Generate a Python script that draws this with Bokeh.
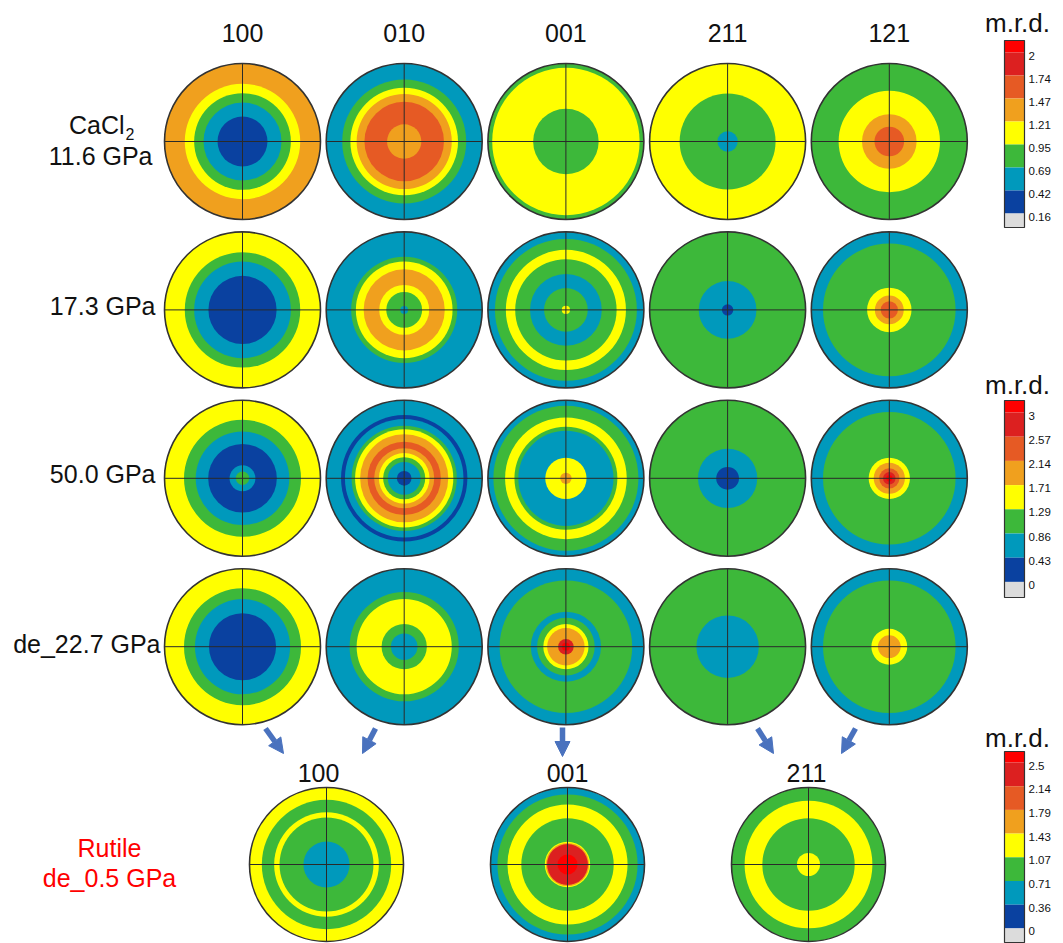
from bokeh.plotting import figure
from bokeh.models import Range1d, ColumnDataSource, Arrow, NormalHead
from bokeh.core.properties import value
from bokeh.embed import file_html
from bokeh.resources import INLINE

# ---- data -------------------------------------------------------------
# contour level colours, index 0 (lowest) .. 8 (highest)
level_colors = ["#DCDCDC", "#0A41A0", "#0099BC", "#3DB83A", "#FFFF00",
                "#F0A01E", "#E65A24", "#DC2020", "#FF0000"]

col_labels = ["100", "010", "001", "211", "121"]
row_labels = ["11.6 GPa", "17.3 GPa", "50.0 GPa", "de_22.7 GPa"]
rutile_labels = ["100", "001", "211"]

# each pole figure: ring outer radii (fraction of the circle) and level index
cacl2_116_radii = [[1, .74, .62, .50, .32],
                   [1, .795, .69, .61, .51, .22],
                   [1, .945, .42],
                   [1, .615, .13],
                   [1, .65, .35, .19]]
cacl2_116_levels = [[5, 4, 3, 2, 1],
                    [2, 3, 4, 5, 6, 5],
                    [3, 4, 3],
                    [4, 3, 2],
                    [3, 4, 5, 6]]

gpa_173_radii = [[1, .74, .62, .437],
                 [1, .68, .62, .52, .32, .23, .05],
                 [1, .91, .77, .65, .46, .28, .053],
                 [1, .37, .073],
                 [1, .85, .285, .185, .11]]
gpa_173_levels = [[4, 3, 2, 1],
                  [2, 3, 4, 5, 4, 3, 2],
                  [2, 3, 4, 3, 2, 3, 4],
                  [3, 2, 1],
                  [2, 3, 4, 5, 6]]

gpa_500_radii = [[1, .75, .60, .44, .166, .086],
                 [1, .81, .76, .675, .63, .565, .47, .385, .325, .27, .21, .094],
                 [1, .93, .78, .66, .61, .265, .073],
                 [1, .38, .146],
                 [1, .85, .265, .20, .13, .08, .04]]
gpa_500_levels = [[4, 3, 2, 1, 2, 3],
                  [2, 1, 2, 3, 4, 5, 6, 5, 4, 3, 2, 1],
                  [2, 3, 4, 3, 2, 4, 5],
                  [3, 2, 1],
                  [2, 3, 4, 5, 6, 7, 8]]

de_227_radii = [[1, .75, .61, .43],
                [1, .70, .61, .29, .17],
                [1, .85, .45, .37, .29, .24, .10, .05],
                [1, .40],
                [1, .85, .23, .146]]
de_227_levels = [[4, 3, 2, 1],
                 [2, 3, 4, 3, 2],
                 [2, 3, 2, 3, 4, 5, 7, 8],
                 [3, 2],
                 [2, 3, 4, 5]]

rutile_radii = [[1, .84, .68, .61, .30],
                [1, .91, .78, .60, .295, .28, .265, .13],
                [1, .83, .60, .15]]
rutile_levels = [[4, 3, 4, 3, 2],
                 [2, 3, 4, 3, 4, 5, 7, 8],
                 [3, 4, 3, 4]]

cb1_ticks = ["2", "1.74", "1.47", "1.21", "0.95", "0.69", "0.42", "0.16"]
cb2_ticks = ["3", "2.57", "2.14", "1.71", "1.29", "0.86", "0.43", "0"]
cb3_ticks = ["2.5", "2.14", "1.79", "1.43", "1.07", "0.71", "0.36", "0"]

# ---- layout -----------------------------------------------------------
W, H = 1063, 943
R = 78
col_x = [242 + 161.7 * i for i in range(5)]
row_y = [141 + 168.4 * i for i in range(4)]
rut_x = [326, 567, 808]
rut_y = 864
R_rut = 77
FONT = value("Liberation Sans")

p = figure(width=W, height=H, x_range=Range1d(0, W), y_range=Range1d(H, 0),
           x_axis_type=None, y_axis_type=None, toolbar_location=None,
           output_backend="svg", min_border=0)
p.outline_line_color = None
p.background_fill_color = "white"
p.border_fill_color = "white"

figures = []  # (cx, cy, radius, radii, levels)
grid_rows = [(cacl2_116_radii, cacl2_116_levels), (gpa_173_radii, gpa_173_levels),
             (gpa_500_radii, gpa_500_levels), (de_227_radii, de_227_levels)]
for r, (radii_row, levels_row) in enumerate(grid_rows):
    for c in range(5):
        figures.append((col_x[c], row_y[r], R, radii_row[c], levels_row[c]))
for c in range(3):
    figures.append((rut_x[c], rut_y, R_rut, rutile_radii[c], rutile_levels[c]))

ring = dict(x=[], y=[], r=[], color=[])
for cx, cy, rad, radii, levels in figures:
    for f, lv in zip(radii, levels):
        ring["x"].append(cx)
        ring["y"].append(cy)
        ring["r"].append(f * rad)
        ring["color"].append(level_colors[lv])
p.circle(x="x", y="y", radius="r", fill_color="color", line_color=None,
         source=ColumnDataSource(ring))

# crosshairs and outlines
seg = dict(x0=[], y0=[], x1=[], y1=[])
for cx, cy, rad, _, _ in figures:
    seg["x0"] += [cx - rad, cx]
    seg["x1"] += [cx + rad, cx]
    seg["y0"] += [cy, cy - rad]
    seg["y1"] += [cy, cy + rad]
p.segment(x0="x0", y0="y0", x1="x1", y1="y1", line_color="#2a2a2a",
          line_width=1, source=ColumnDataSource(seg))
p.circle(x=[f[0] for f in figures], y=[f[1] for f in figures],
         radius=[f[2] for f in figures], fill_color=None,
         line_color="#333333", line_width=1.6)

# headers and row labels
p.text(x=col_x, y=[32] * 5, text=col_labels, text_font=FONT,
       text_font_size="25px", text_align="center", text_baseline="middle",
       text_color="#111111")
p.text(x=[124], y=[124], text=["CaCl"], text_font=FONT, text_font_size="25px",
       text_align="right", text_baseline="middle", text_color="#111111")
p.text(x=[125], y=[133], text=["2"], text_font=FONT, text_font_size="16px",
       text_align="left", text_baseline="middle", text_color="#111111")
p.text(x=[152, 155, 155, 160], y=[row_y[0] + 14, row_y[1] - 4, row_y[2] - 4, row_y[3] - 3],
       text=row_labels, text_font=FONT, text_font_size="25px",
       text_align="right", text_baseline="middle", text_color="#111111")
p.text(x=[318, 567, 806], y=[772] * 3, text=rutile_labels, text_font=FONT,
       text_font_size="25px", text_align="center", text_baseline="middle",
       text_color="#111111")
p.text(x=[109, 109], y=[847, 877], text=["Rutile", "de_0.5 GPa"], text_font=FONT,
       text_font_size="25px", text_align="center", text_baseline="middle",
       text_color="#FF0000")

# arrows from the CaCl2 columns to the rutile figures
arrow_segments = [(265, 728, 283, 753), (375, 728, 362, 753), (562, 727, 562, 756),
                  (757, 728, 773, 753), (855, 728, 841, 753)]
for x0, y0, x1, y1 in arrow_segments:
    p.add_layout(Arrow(x_start=x0, y_start=y0, x_end=x1, y_end=y1,
                       line_color="#4A72BE", line_width=5.5,
                       end=NormalHead(size=15, fill_color="#4A72BE",
                                      line_color="#4A72BE")))

# colour scales
def colorbar(top, b0, h, bottom, ticks, title_y):
    left, right = 1004, 1024
    q = dict(left=[], right=[], top=[], bottom=[], color=[])
    edges = [top] + [b0 + k * h for k in range(8)] + [bottom]
    for k in range(9):
        q["left"].append(left)
        q["right"].append(right)
        q["top"].append(edges[k])
        q["bottom"].append(edges[k + 1])
        q["color"].append(level_colors[8 - k])
    p.quad(left="left", right="right", top="top", bottom="bottom",
           fill_color="color", line_color=None, source=ColumnDataSource(q))
    p.quad(left=[left], right=[right], top=[top], bottom=[bottom],
           fill_color=None, line_color="#333333", line_width=1.2)
    p.text(x=[1028] * 8, y=[b0 + k * h + 3 for k in range(8)], text=ticks,
           text_font=FONT, text_font_size="11.5px", text_align="left",
           text_baseline="middle", text_color="#111111")
    p.text(x=[1017], y=[title_y], text=["m.r.d."], text_font=FONT,
           text_font_size="26px", text_align="center", text_baseline="middle",
           text_color="#111111")

colorbar(40, 52, 23, 227, cb1_ticks, 22)
colorbar(400, 412, 24.2, 597, cb2_ticks, 384)
colorbar(751, 762, 23.7, 942, cb3_ticks, 737)

open("out.html", "w").write(file_html(p, INLINE))
